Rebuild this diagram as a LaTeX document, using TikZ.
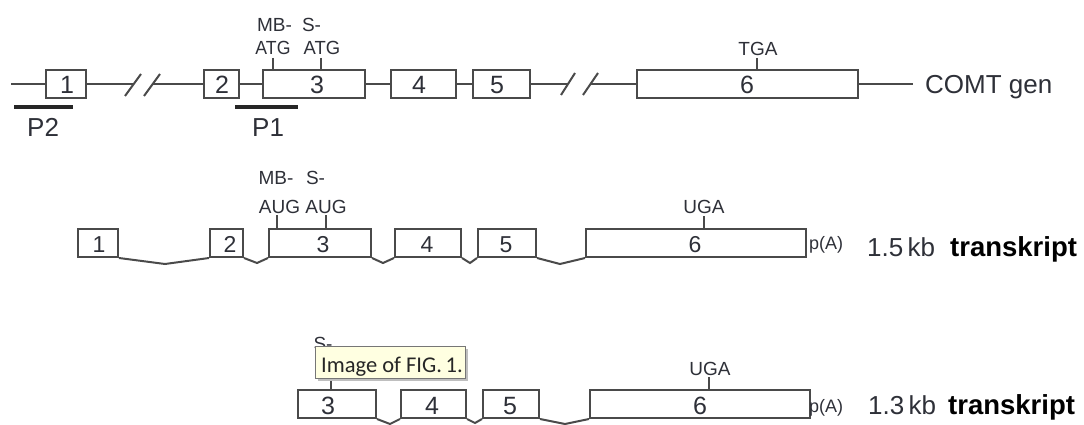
\documentclass[tikz,border=0pt]{standalone}
\usepackage{fontspec}
\setmainfont{Liberation Sans}
\newfontfamily\tipfont{Carlito}
\definecolor{linec}{HTML}{4A4A4A}
\definecolor{txt}{HTML}{2E3038}
\definecolor{tipfill}{HTML}{FFFFE1}
\definecolor{tipdraw}{HTML}{767676}
\begin{document}
\begin{tikzpicture}[x=1pt,y=-1pt,
  ln/.style={draw=linec, line width=2pt},
  exon/.style={draw=linec, line width=2pt, fill=white, rectangle, inner sep=0pt, minimum height=28pt},
  num/.style={font=\fontsize{25}{25}\selectfont, text=txt, anchor=base, inner sep=0pt},
  numb/.style={font=\fontsize{23}{23}\selectfont, text=txt, anchor=base, inner sep=0pt},
  lab/.style={font=\fontsize{19}{19}\selectfont, text=txt, anchor=base, inner sep=0pt},
  big/.style={font=\fontsize{26}{26}\selectfont, text=txt, anchor=base west, inner sep=0pt},
  pa/.style={font=\fontsize{18}{18}\selectfont, text=txt, anchor=base west, inner sep=0pt},
  bold/.style={font=\fontsize{27.5}{27.5}\selectfont\bfseries, text=black, anchor=base west, inner sep=0pt},
  probe/.style={draw=black!85, line width=4pt},
  tick/.style={draw=linec, line width=2pt}]
\useasboundingbox (0,0) rectangle (1084,425);

% ---------------- Row 1: gene ----------------
\coordinate (gs) at (11,84);
\coordinate (ge) at (913,84);
\coordinate (bk1a) at (133,84);
\coordinate (bk1b) at (152,84);
\coordinate (bk2a) at (568,84);
\coordinate (bk2b) at (590,84);
\node[exon, minimum width=40pt]  (g1) at (66,84) {};
\node[exon, minimum width=35pt]  (g2) at (221.5,84) {};
\node[exon, minimum width=102pt] (g3) at (314,84) {};
\node[exon, minimum width=65pt]  (g4) at (423.5,84) {};
\node[exon, minimum width=57pt]  (g5) at (501.5,84) {};
\node[exon, minimum width=221pt] (g6) at (747.5,84) {};
\draw[ln] (gs) -- (g1.west);
\draw[ln] (g1.east) -- (bk1a);
\draw[ln] (bk1b) -- (g2.west);
\draw[ln] (g2.east) -- (g3.west);
\draw[ln] (g3.east) -- (g4.west);
\draw[ln] (g4.east) -- (g5.west);
\draw[ln] (g5.east) -- (bk2a);
\draw[ln] (bk2b) -- (g6.west);
\draw[ln] (g6.east) -- (ge);
% break marks
\coordinate (s1a) at (125,96); \coordinate (s1b) at (141,74);
\coordinate (s2a) at (144,96); \coordinate (s2b) at (160,74);
\coordinate (s3a) at (561,95); \coordinate (s3b) at (575,73);
\coordinate (s4a) at (583,95); \coordinate (s4b) at (598,73);
\draw[ln] (s1a) -- (s1b);
\draw[ln] (s2a) -- (s2b);
\draw[ln] (s3a) -- (s3b);
\draw[ln] (s4a) -- (s4b);
% numbers
\node[num] (n1) at (67,94) {1};
\node[num] (n2) at (222,94) {2};
\node[num] (n3) at (317,94) {3};
\node[num] (n4) at (419,94) {4};
\node[num] (n5) at (497,94) {5};
\node[num] (n6) at (747,94) {6};
% ticks and labels
\coordinate (tk1) at (273,58);
\coordinate (tk2) at (321,58);
\coordinate (tk3) at (757,58);
\draw[tick] (tk1) -- (tk1 |- g3.north);
\draw[tick] (tk2) -- (tk2 |- g3.north);
\draw[tick] (tk3) -- (tk3 |- g6.north);
\node[lab] (mb1) at (274.5,32) {MB-};
\node[lab] (sm1) at (311.5,32) {S-};
\node[lab] (atg1) at (273,55) {\scalebox{0.93}[1]{ATG}};
\node[lab] (atg2) at (322,55) {\scalebox{0.97}[1]{ATG}};
\node[lab] (tga) at (758,56) {TGA};
\node[big] (comt) at (925,94) {COMT gen};
% probes
\coordinate (p2a) at (14,107); \coordinate (p2b) at (73,107);
\coordinate (p1a) at (235,107); \coordinate (p1b) at (298,107);
\draw[probe] (p2a) -- (p2b);
\draw[probe] (p1a) -- (p1b);
\node[big] (p2) at (27,137) {P2};
\node[big] (p1) at (252,137) {P1};

% ---------------- Row 2: 1.5 kb transcript ----------------
\node[exon, minimum width=40pt]  (t1) at (98,243) {};
\node[exon, minimum width=33pt]  (t2) at (226.5,243) {};
\node[exon, minimum width=102pt] (t3) at (320,243) {};
\node[exon, minimum width=66pt]  (t4) at (428,243) {};
\node[exon, minimum width=58pt]  (t5) at (507,243) {};
\node[exon, minimum width=220pt] (t6) at (696,243) {};
\draw[ln] (t1.south east) -- (165,264) -- (t2.south west);
\draw[ln] (t2.south east) -- (257,263) -- (t3.south west);
\draw[ln] (t3.south east) -- (383,263) -- (t4.south west);
\draw[ln] (t4.south east) -- (470,263) -- (t5.south west);
\draw[ln] (t5.south east) -- (560,264) -- (t6.south west);
\node[numb] (m1) at (99,252) {1};
\node[numb] (m2) at (230,252) {2};
\node[numb] (m3) at (323,252) {3};
\node[numb] (m4) at (427,252) {4};
\node[numb] (m5) at (506,252) {5};
\node[numb] (m6) at (695,252) {6};
\coordinate (tk4) at (277,215);
\coordinate (tk5) at (326,215);
\coordinate (tk6) at (704,216);
\draw[tick] (tk4) -- (tk4 |- t3.north);
\draw[tick] (tk5) -- (tk5 |- t3.north);
\draw[tick] (tk6) -- (tk6 |- t6.north);
\node[lab] (mb2) at (276,184) {MB-};
\node[lab] (sm2) at (315.5,184) {S-};
\node[lab] (aug1) at (279.5,213) {AUG};
\node[lab] (aug2) at (326,213) {AUG};
\node[lab] (uga1) at (704,213) {UGA};
\node[pa] (pa1) at (809,249.5) {p(A)};
\node[big] (kb1) at (867,256) {1.5\,kb};
\node[bold] (tr1) at (950,256) {transkript};

% ---------------- Row 3: 1.3 kb transcript ----------------
\node[exon, minimum width=78pt]  (u3) at (337,404) {};
\node[exon, minimum width=65pt]  (u4) at (433.5,404) {};
\node[exon, minimum width=56pt]  (u5) at (511,404) {};
\node[exon, minimum width=220pt] (u6) at (700,404) {};
\draw[ln] (u3.south east) -- (390,424) -- (u4.south west);
\draw[ln] (u4.south east) -- (475,423) -- (u5.south west);
\draw[ln] (u5.south east) -- (565,424) -- (u6.south west);
\node[num] (k3) at (328,414) {3};
\node[num] (k4) at (432,414) {4};
\node[num] (k5) at (510,414) {5};
\node[num] (k6) at (700,414) {6};
\coordinate (tk7) at (331,376);
\coordinate (tk8) at (709,377);
\draw[tick] (tk7) -- (tk7 |- u3.north);
\draw[tick] (tk8) -- (tk8 |- u6.north);
\node[lab] (sm3) at (323,350) {S-};
\node[lab] (aug3) at (336,375) {AUG};
\node[lab] (uga2) at (710,375) {UGA};
\node[pa] (pa2) at (809,412) {p(A)};
\node[big] (kb2) at (868,414) {1.3\,kb};
\node[bold] (tr2) at (948,414) {transkript};

% tooltip
\fill[black!25] (318,349) rectangle (468,381);
\node[draw=tipdraw, fill=tipfill, line width=1pt, rectangle, minimum width=150pt, minimum height=32pt, inner sep=0pt] (tip) at (390,362) {};
\node[font=\tipfont\fontsize{22.5}{22.5}\selectfont, text=black!85, anchor=base west, inner sep=0pt] (tiptext) at (321,372) {Image of FIG.\,1.};
\end{tikzpicture}
\end{document}
